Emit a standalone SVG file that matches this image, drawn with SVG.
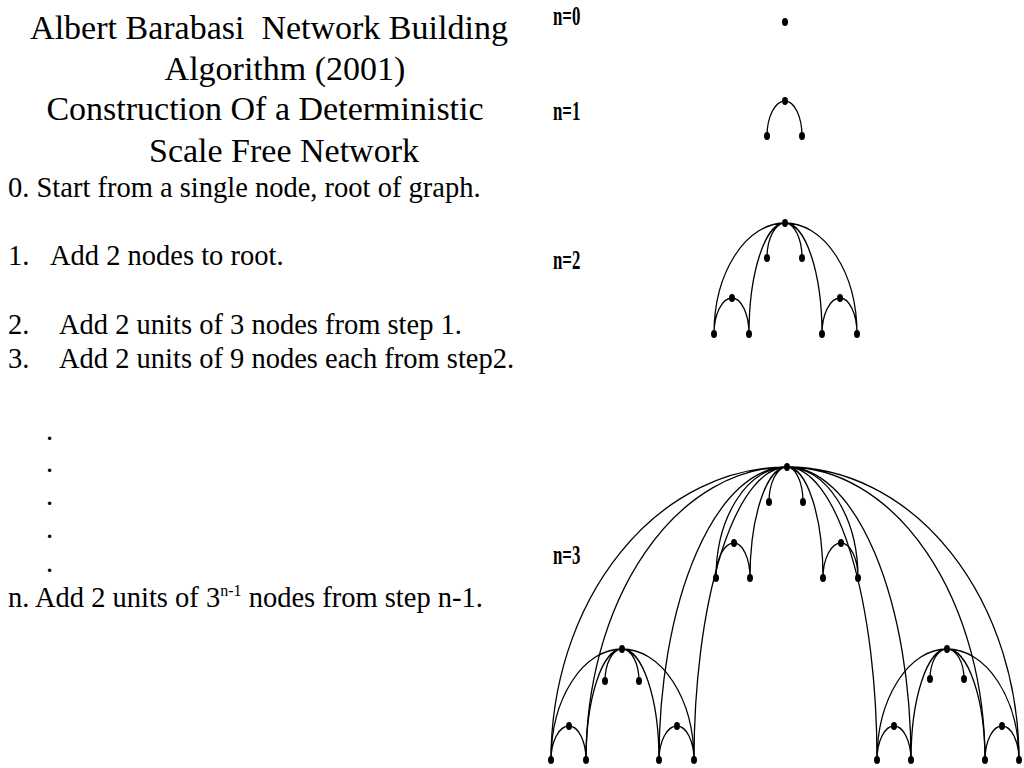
<svg xmlns="http://www.w3.org/2000/svg" width="1024" height="768" viewBox="0 0 1024 768">
<style>
.t{font-family:"Liberation Serif",serif;font-size:34px;fill:#000;white-space:pre}
.b{font-family:"Liberation Serif",serif;font-size:28.5px;fill:#000}
.l{font-family:"Liberation Serif",serif;font-size:28px;font-weight:bold;fill:#000}
.e{fill:none;stroke:#000;stroke-width:1.3}
.n{fill:#000}
</style>
<rect width="1024" height="768" fill="#fff"/>
<g id="title">
<text class="t" x="269" y="39" text-anchor="middle">Albert Barabasi  Network Building</text>
<text class="t" x="285" y="80" text-anchor="middle">Algorithm (2001)</text>
<text class="t" x="265" y="120" text-anchor="middle">Construction Of a Deterministic</text>
<text class="t" x="284" y="162" text-anchor="middle">Scale Free Network</text>
</g>
<g id="steps">
<text class="b" x="8" y="197">0. Start from a single node, root of graph.</text>
<text class="b" x="8" y="265">1.</text><text class="b" x="50" y="265">Add 2 nodes to root.</text>
<text class="b" x="8" y="334">2.</text><text class="b" x="59" y="334">Add 2 units of 3 nodes from step 1.</text>
<text class="b" x="8" y="368">3.</text><text class="b" x="59" y="368">Add 2 units of 9 nodes each from step2.</text>
<text class="b" x="46" y="440">.</text>
<text class="b" x="46" y="472">.</text>
<text class="b" x="46" y="505">.</text>
<text class="b" x="46" y="538">.</text>
<text class="b" x="46" y="572">.</text>
<text class="b" x="8" y="607">n. Add 2 units of 3<tspan font-size="16" dy="-11">n-1</tspan><tspan dy="11"> nodes from step n-1.</tspan></text>
</g>
<g id="labels">
<text class="l" transform="translate(553,25) scale(0.6,1)">n=0</text>
<text class="l" transform="translate(553,120) scale(0.6,1)">n=1</text>
<text class="l" transform="translate(553,269) scale(0.6,1)">n=2</text>
<text class="l" transform="translate(553,564) scale(0.6,1)">n=3</text>
</g>
<g id="connectors">
<path class="e" d="M785 101 A18 35 0 0 0 767 136 M785 101 A17 35 0 0 1 802 136"/>
<path class="e" d="M785 223 A18 35 0 0 0 767 258 M785 223 A17 35 0 0 1 802 258
M785 223 A71 111 0 0 0 714 334 M785 223 A36 111 0 0 0 749 334 M785 223 A37 111 0 0 1 822 334 M785 223 A72 111 0 0 1 857 334
M732 298 A18 36 0 0 0 714 334 M732 298 A17 36 0 0 1 749 334 M840 298 A18 36 0 0 0 822 334 M840 298 A17 36 0 0 1 857 334"/>
<path class="e" d="M787 467 A18 35 0 0 0 769 502 M787 467 A16 35 0 0 1 803 502
M787 467 A71 111 0 0 0 716 578 M787 467 A37 111 0 0 0 750 578 M787 467 A36 111 0 0 1 823 578 M787 467 A71 111 0 0 1 858 578
M734 543 A18 35 0 0 0 716 578 M734 543 A16 35 0 0 1 750 578 M841 543 A18 35 0 0 0 823 578 M841 543 A17 35 0 0 1 858 578"/>
<path class="e" d="M787 467 A236 293 0 0 0 551 760 M787 467 A201 293 0 0 0 586 760 M787 467 A128 293 0 0 0 659 760 M787 467 A93 293 0 0 0 694 760
M787 467 A90 293 0 0 1 877 760 M787 467 A124 293 0 0 1 911 760 M787 467 A198 293 0 0 1 985 760 M787 467 A232 293 0 0 1 1019 760"/>
<path class="e" d="M622 649 A17 32 0 0 0 605 681 M622 649 A17 32 0 0 1 639 681
M622 649 A71 111 0 0 0 551 760 M622 649 A36 111 0 0 0 586 760 M622 649 A37 111 0 0 1 659 760 M622 649 A72 111 0 0 1 694 760
M569 726 A18 34 0 0 0 551 760 M569 726 A17 34 0 0 1 586 760 M677 726 A18 34 0 0 0 659 760 M677 726 A17 34 0 0 1 694 760"/>
<path class="e" d="M947 649 A17 30 0 0 0 930 679 M947 649 A17 30 0 0 1 964 679
M947 649 A70 111 0 0 0 877 760 M947 649 A36 111 0 0 0 911 760 M947 649 A38 111 0 0 1 985 760 M947 649 A72 111 0 0 1 1019 760
M894 726 A17 34 0 0 0 877 760 M894 726 A17 34 0 0 1 911 760 M1002 726 A17 34 0 0 1 1019 760 M1002 726 A17 34 0 0 0 985 760"/>
</g>
<g id="nodes" class="n">
<ellipse cx="785" cy="22" rx="3" ry="4"/>
<g id="n1"><ellipse cx="785" cy="101" rx="3" ry="4"/><ellipse cx="767" cy="136" rx="3" ry="4"/><ellipse cx="802" cy="136" rx="3" ry="4"/></g>
<g id="n2"><ellipse cx="785" cy="223" rx="3" ry="4"/><ellipse cx="767" cy="258" rx="3" ry="4"/><ellipse cx="802" cy="258" rx="3" ry="4"/>
<ellipse cx="732" cy="298" rx="3" ry="4"/><ellipse cx="714" cy="334" rx="3" ry="4"/><ellipse cx="749" cy="334" rx="3" ry="4"/>
<ellipse cx="840" cy="298" rx="3" ry="4"/><ellipse cx="822" cy="334" rx="3" ry="4"/><ellipse cx="857" cy="334" rx="3" ry="4"/></g>
<g id="n3"><ellipse cx="787" cy="467" rx="3" ry="4"/><ellipse cx="769" cy="502" rx="3" ry="4"/><ellipse cx="803" cy="502" rx="3" ry="4"/>
<ellipse cx="734" cy="543" rx="3" ry="4"/><ellipse cx="716" cy="578" rx="3" ry="4"/><ellipse cx="750" cy="578" rx="3" ry="4"/>
<ellipse cx="841" cy="543" rx="3" ry="4"/><ellipse cx="823" cy="578" rx="3" ry="4"/><ellipse cx="858" cy="578" rx="3" ry="4"/>
<ellipse cx="622" cy="649" rx="3" ry="4"/><ellipse cx="605" cy="681" rx="3" ry="4"/><ellipse cx="639" cy="681" rx="3" ry="4"/>
<ellipse cx="569" cy="726" rx="3" ry="4"/><ellipse cx="677" cy="726" rx="3" ry="4"/>
<ellipse cx="551" cy="760" rx="3" ry="4"/><ellipse cx="586" cy="760" rx="3" ry="4"/><ellipse cx="659" cy="760" rx="3" ry="4"/><ellipse cx="694" cy="760" rx="3" ry="4"/>
<ellipse cx="947" cy="649" rx="3" ry="4"/><ellipse cx="930" cy="679" rx="3" ry="4"/><ellipse cx="964" cy="679" rx="3" ry="4"/>
<ellipse cx="894" cy="726" rx="3" ry="4"/><ellipse cx="1002" cy="726" rx="3" ry="4"/>
<ellipse cx="877" cy="760" rx="3" ry="4"/><ellipse cx="911" cy="760" rx="3" ry="4"/><ellipse cx="985" cy="760" rx="3" ry="4"/><ellipse cx="1019" cy="760" rx="3" ry="4"/></g>
</g>
</svg>
